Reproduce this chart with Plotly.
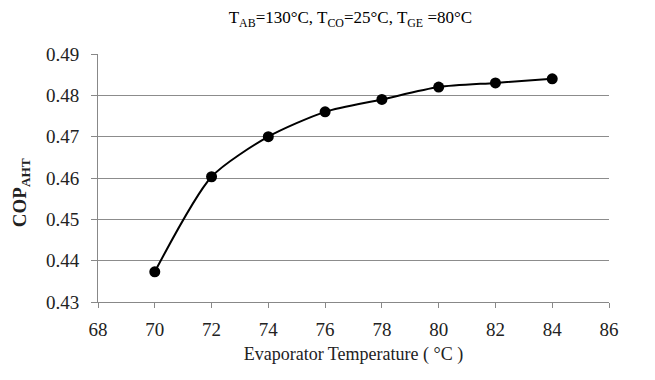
import plotly.graph_objects as go

evap_temp = [70, 72, 74, 76, 78, 80, 82, 84]
cop_aht = [0.4373, 0.4603, 0.470, 0.476, 0.479, 0.482, 0.483, 0.484]
x_ticks = [68, 70, 72, 74, 76, 78, 80, 82, 84, 86]
y_ticks = [0.43, 0.44, 0.45, 0.46, 0.47, 0.48, 0.49]

ff = "Liberation Serif, Times New Roman, serif"

fig = go.Figure()
fig.add_trace(go.Scatter(
    x=evap_temp, y=cop_aht, mode="lines+markers",
    line=dict(color="black", width=2, shape="spline", smoothing=0.7),
    marker=dict(color="black", size=11),
    showlegend=False,
))

fig.update_layout(
    width=655, height=380,
    margin=dict(l=98, r=46, t=54, b=78),
    paper_bgcolor="white", plot_bgcolor="white",
    font=dict(family=ff, size=18, color="black"),
    title=dict(
        text="T<sub>AB</sub>=130°C, T<sub>CO</sub>=25°C, T<sub>GE</sub> =80°C",
        x=0.535, xanchor="center", y=0.955, yanchor="middle",
        font=dict(family=ff, size=17, color="black"),
    ),
    xaxis=dict(
        range=[68, 86], tickvals=x_ticks, ticktext=[str(v) for v in x_ticks],
        tickfont=dict(family=ff, size=19, color="#222222"),
        ticklabelstandoff=5,
        showgrid=False, zeroline=False,
        showline=True, linecolor="#888888", linewidth=1,
        ticks="outside", ticklen=5, tickcolor="#888888",
        title=dict(text="Evaporator Temperature ( °C )", standoff=8,
                   font=dict(family=ff, size=18, color="#222222")),
    ),
    yaxis=dict(
        range=[0.43, 0.49], tickvals=y_ticks,
        ticktext=[f"{v:.2f}" for v in y_ticks],
        tickfont=dict(family=ff, size=19, color="#222222"),
        ticklabelstandoff=8,
        showgrid=True, gridcolor="#8c8c8c", gridwidth=1.2,
        zeroline=False,
        showline=True, linecolor="#888888", linewidth=1,
        ticks="outside", ticklen=6, tickcolor="#888888",
    ),
    annotations=[dict(
        text="<b>COP<sub>AHT</sub></b>", textangle=-90,
        xref="paper", yref="paper", x=-0.15, y=0.44,
        xanchor="center", yanchor="middle", showarrow=False,
        font=dict(family=ff, size=19, color="#222222"),
    )],
)

fig.write_html("out.html")
